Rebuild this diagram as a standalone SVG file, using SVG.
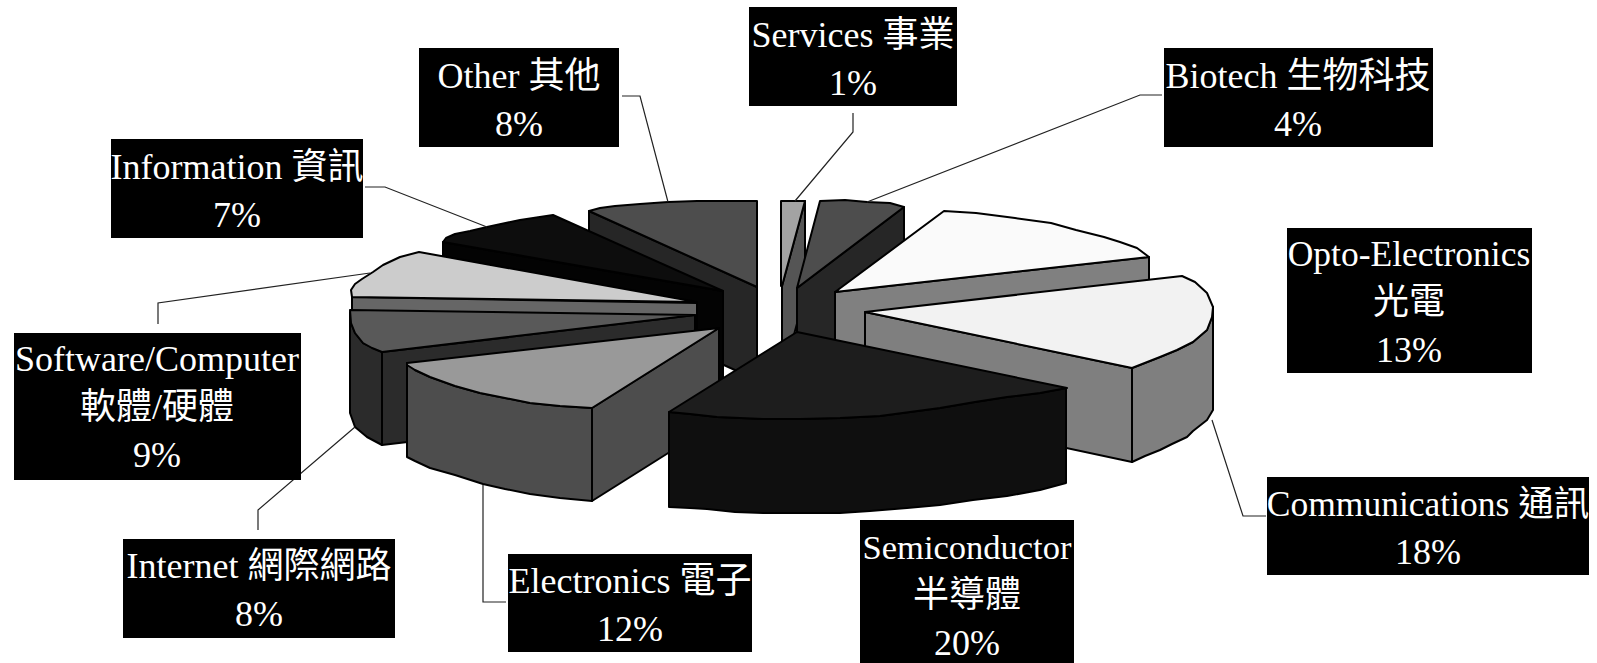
<svg xmlns="http://www.w3.org/2000/svg" width="1597" height="663" viewBox="0 0 1597 663">
<style>
  .s { stroke:#000; stroke-width:2; stroke-linejoin:round; }
  .box { fill:#000; }
  .t { font-family:"Liberation Serif","Noto Sans CJK TC",serif; font-size:36px; fill:#fff; text-anchor:middle; }
  .lead { fill:none; stroke:#222; stroke-width:1.2; }
</style>
<rect width="1597" height="663" fill="#fff"/>

<g id="slice-other">
  <polygon class="s" fill="#262626" points="589,211 757,287 757,380 589,304"/>
  <polygon class="s" fill="#4d4d4d" points="589,211 600,208 615,206 640,204 668,202 697,201 757,201 757,287"/>
</g>
<g id="slice-services">
  <polygon class="s" fill="#555555" points="782,286 805,201 805,294 782,379"/>
  <polygon class="s" fill="#a3a3a3" points="781,201 805,201 782,286 781,286"/>
</g>
<g id="slice-biotech">
  <polygon class="s" fill="#262626" points="797,288 904,207 904,300 797,381"/>
  <polygon class="s" fill="#4d4d4d" points="820,201 845,200 867,202 890,203 904,207 797,288"/>
</g>
<g id="slice-information">
  <polygon class="s" fill="#030303" points="443,242 723,291 723,384 443,335"/>
  <polygon class="s" fill="#0d0d0d" points="443,242 446,238 455,234 470,231 487,227 520,220 553,215 723,291"/>
</g>
<g id="slice-software">
  <polygon class="s" fill="#666666" points="352,297 697,303 697,396 352,390"/>
  <polygon class="s" fill="#cccccc" points="352,297 351,290 355,284 362,279 373,272 383,265 400,257 419,252 697,302"/>
</g>
<g id="slice-opto">
  <polygon class="s" fill="#808080" points="835,292 1149,257 1149,350 835,385"/>
  <polygon class="s" fill="#fafafa" points="835,292 944,211 976,213 1015,218 1051,223 1076,230 1104,237 1120,242 1137,248 1149,257"/>
</g>
<g id="slice-internet">
  <polygon class="s" fill="#2b2b2b" points="350,312 351,323 355,333 363,343 382,352 382,445 367,437 355,427 350,413"/>
  <polygon class="s" fill="#2b2b2b" points="382,352 695,315 695,408 382,445"/>
  <polygon class="s" fill="#595959" points="350,310 695,315 382,352 372,348 363,343 355,333 351,323"/>
</g>
<g id="slice-communications">
  <polygon class="s" fill="#7f7f7f" points="865,312 1132,368 1132,462 865,405"/>
  <polygon class="s" fill="#7f7f7f" points="1132,368 1160,357 1177,350 1193,342 1207,330 1212,317 1213,307 1213,410 1207,420 1193,431 1187,437 1172,444 1160,450 1145,456 1132,462"/>
  <polygon class="s" fill="#f2f2f2" points="865,312 1182,276 1195,282 1207,293 1213,307 1212,317 1207,330 1193,342 1177,350 1160,357 1132,368"/>
</g>
<g id="slice-electronics">
  <polygon class="s" fill="#4d4d4d" points="407,363 415,370 430,377 455,386 480,393 505,398 530,403 560,406 592,408 592,501 560,498 530,494 505,489 483,484 455,475 430,468 415,461 407,457"/>
  <polygon class="s" fill="#4d4d4d" points="592,408 719,328 719,421 592,501"/>
  <polygon class="s" fill="#999999" points="407,363 719,328 592,408 560,406 530,403 505,398 480,393 455,386 430,377 415,370 407,365"/>
</g>
<g id="slice-semiconductor">
  <polygon class="s" fill="#0f0f0f" points="669,412 690,414 717,417 740,418 763,419 800,419 840,418 880,416 910,412 940,408 975,402 1007,397 1040,393 1066,388 1066,483 1040,490 1007,496 973,500 940,505 907,508 870,511 840,513 800,513 763,513 735,512 707,509 690,508 669,507"/>
  <polygon class="s" fill="#1d1d1d" points="797,332 1067,388 1040,393 1007,397 975,402 940,408 910,412 880,416 840,418 800,419 763,419 740,418 717,417 690,414 669,412"/>
</g>

<g id="connectors">
  <polyline class="lead" points="622,96 640,96 668,202"/>
  <polyline class="lead" points="853,113 853,132 795,201"/>
  <polyline class="lead" points="1162,95 1140,95 867,202"/>
  <polyline class="lead" points="365,187 385,187 487,227"/>
  <polyline class="lead" points="158,324 158,303 370,273"/>
  <polyline class="lead" points="258,530 258,510 355,427"/>
  <polyline class="lead" points="506,602 483,602 483,485"/>
  <polyline class="lead" points="1266,516 1243,516 1212,420"/>
</g>

<g id="label-services">
  <rect class="box" x="749" y="7" width="208" height="99"/>
  <text class="t" x="853" y="47">Services 事業</text>
  <text class="t" x="853" y="95">1%</text>
</g>
<g id="label-other">
  <rect class="box" x="419" y="48" width="200" height="99"/>
  <text class="t" x="519" y="88">Other 其他</text>
  <text class="t" x="519" y="136">8%</text>
</g>
<g id="label-biotech">
  <rect class="box" x="1164" y="48" width="269" height="99"/>
  <text class="t" x="1298" y="88">Biotech 生物科技</text>
  <text class="t" x="1298" y="136">4%</text>
</g>
<g id="label-information">
  <rect class="box" x="111" y="139" width="252" height="99"/>
  <text class="t" x="237" y="179">Information 資訊</text>
  <text class="t" x="237" y="227">7%</text>
</g>
<g id="label-software">
  <rect class="box" x="14" y="333" width="287" height="147"/>
  <text class="t" x="157" y="371">Software/Computer</text>
  <text class="t" x="157" y="419">軟體/硬體</text>
  <text class="t" x="157" y="467">9%</text>
</g>
<g id="label-opto">
  <rect class="box" x="1287" y="228" width="245" height="145"/>
  <text class="t" x="1409" y="266" style="font-size:35.5px">Opto-Electronics</text>
  <text class="t" x="1409" y="314">光電</text>
  <text class="t" x="1409" y="362">13%</text>
</g>
<g id="label-communications">
  <rect class="box" x="1267" y="477" width="322" height="98"/>
  <text class="t" x="1428" y="516" style="font-size:35.5px">Communications 通訊</text>
  <text class="t" x="1428" y="564">18%</text>
</g>
<g id="label-internet">
  <rect class="box" x="123" y="539" width="272" height="99"/>
  <text class="t" x="259" y="578">Internet 網際網路</text>
  <text class="t" x="259" y="626">8%</text>
</g>
<g id="label-electronics">
  <rect class="box" x="508" y="554" width="244" height="98"/>
  <text class="t" x="630" y="593">Electronics 電子</text>
  <text class="t" x="630" y="641">12%</text>
</g>
<g id="label-semiconductor">
  <rect class="box" x="860" y="520" width="214" height="143"/>
  <text class="t" x="967" y="559" style="font-size:34.5px">Semiconductor</text>
  <text class="t" x="967" y="607">半導體</text>
  <text class="t" x="967" y="655">20%</text>
</g>
</svg>
